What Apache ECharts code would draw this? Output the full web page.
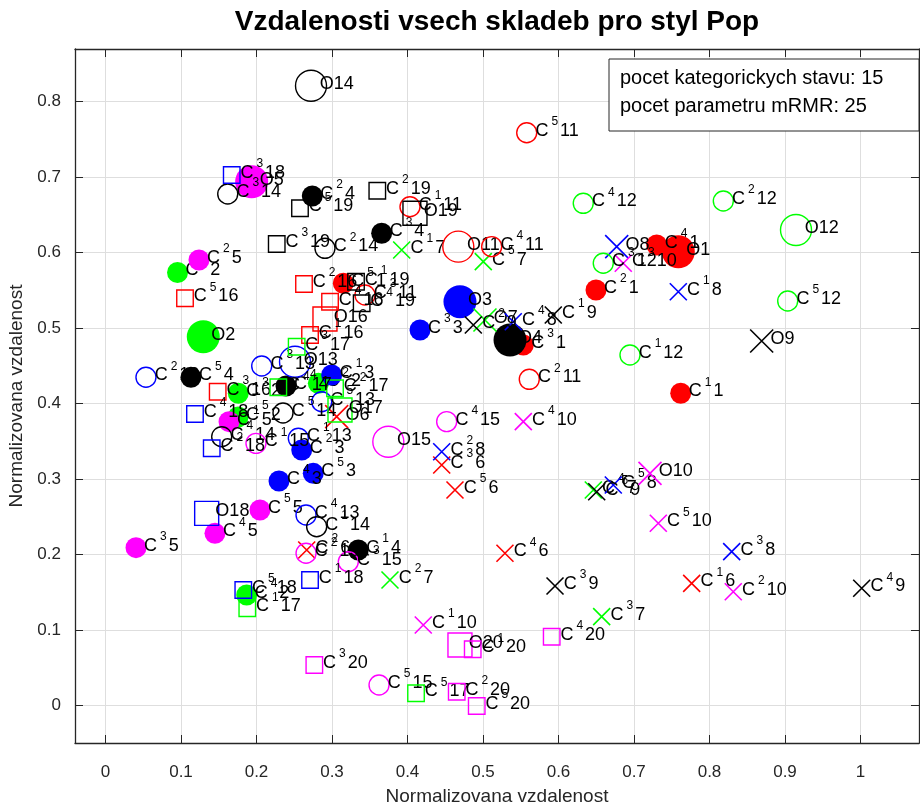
<!DOCTYPE html>
<html><head><meta charset="utf-8">
<script src="https://cdn.jsdelivr.net/npm/echarts@6/dist/echarts.min.js"></script>
<style>html,body{margin:0;padding:0;background:#fff}#c{width:920px;height:807px}</style>
</head><body><div id="c"></div>
<script>
// ---- data (normalized distances) ----
const songs = [1,2,3,4,5,6,7,8,9,10,11,12,13,14,15,16,17,18,19,20];
const origX = [0.7587,0.1295,0.4695,0.5358,0.1936,0.3062,0.5026,0.6771,0.8691,0.7212,0.4673,0.9146,0.2510,0.2722,0.3746,0.2907,0.3106,0.1340,0.4099,0.4695];
const origY = [0.6013,0.4887,0.5351,0.4844,0.6940,0.3828,0.5109,0.6080,0.4830,0.3078,0.6080,0.6301,0.4556,0.8212,0.3497,0.5122,0.3917,0.2548,0.6522,0.0804];
const c1X = [0.7619,0.0954,0.2996,0.3348,0.1636,0.7764,0.3923,0.7587,0.5931,0.4209,0.4033,0.6947,0.2554,0.2797,0.1993,0.2709,0.1878,0.2709,0.3318,0.4864];
const c1Y = [0.4138,0.5738,0.4380,0.2062,0.3762,0.1621,0.6036,0.5483,0.5175,0.1069,0.6609,0.4645,0.3542,0.2371,0.3475,0.4910,0.1290,0.1665,0.5616,0.0747];
const c2X = [0.6497,0.2819,0.2599,0.2739,0.1238,0.2665,0.3768,0.4453,0.4872,0.8315,0.5613,0.8183,0.0536,0.2907,0.2656,0.2629,0.3040,0.1407,0.3600,0.4652];
const c2Y = [0.5506,0.4270,0.3387,0.6751,0.5903,0.2062,0.1665,0.3364,0.5042,0.1510,0.4323,0.6685,0.4350,0.6058,0.2019,0.5585,0.4204,0.3409,0.6821,0.0185];
const c3X = [0.5534,0.1759,0.4166,0.3658,0.0404,0.4453,0.6572,0.8294,0.5954,0.6858,0.3437,0.6593,0.2069,0.1619,0.3216,0.1486,0.2532,0.1672,0.2268,0.2766];
const c3Y = [0.4777,0.4138,0.4976,0.6257,0.2093,0.3188,0.1179,0.2040,0.1585,0.5860,0.5440,0.5860,0.4499,0.6777,0.1907,0.4159,0.4755,0.7029,0.6115,0.0539];
const c4X = [0.7301,0.1870,0.2298,0.2391,0.1450,0.5291,0.6461,0.5401,1.0016,0.5534,0.5115,0.6328,0.2656,0.1539,0.4519,0.2974,0.2289,0.1185,0.3393,0.5910];
const c4Y = [0.6102,0.1466,0.2976,0.4234,0.2283,0.2019,0.2857,0.5086,0.1555,0.3762,0.6080,0.6654,0.2526,0.3563,0.3762,0.5351,0.4217,0.3864,0.5330,0.0914];
const c5X = [0.3150,0.1755,0.2752,0.1132,0.2046,0.4629,0.5004,0.6726,0.6506,0.7322,0.5579,0.9036,0.2864,0.2351,0.3623,0.1053,0.4113,0.1825,0.2576,0.4917];
const c5Y = [0.5595,0.3824,0.3078,0.4350,0.2592,0.2857,0.5881,0.2923,0.2834,0.2416,0.7589,0.5360,0.4026,0.3877,0.0274,0.5396,0.0164,0.1532,0.6588,-0.0004];
const xTicks = [0,0.1,0.2,0.3,0.4,0.5,0.6,0.7,0.8,0.9,1];
const yTicks = [0,0.1,0.2,0.3,0.4,0.5,0.6,0.7,0.8];
const titleText = 'Vzdalenosti vsech skladeb pro styl Pop';
const axisTitle = 'Normalizovana vzdalenost';
const infoLines = ['pocet kategorickych stavu: 15', 'pocet parametru mRMR: 25'];

// ---- styling ----
const FONT = '"Liberation Sans", Arial, Helvetica, sans-serif';
const colors = ['#ff0000','#00ff00','#0000ff','#000000','#ff00ff'];
const XPATH = 'path://M0,0L10,10M10,0L0,10';
const X_MIN = -0.0404, X_MAX = 1.0775, Y_MIN = -0.0494, Y_MAX = 0.8698;
const rich = {
  m: {fontSize: 18, fontFamily: FONT, color: '#000', lineHeight: 30},
  s: {fontSize: 12, fontFamily: FONT, color: '#000', lineHeight: 14, verticalAlign: 'top', padding: [0, 2, 0, 3]}
};
function markerStyle(song, isO) {
  const g = Math.floor((song - 1) / 5), col = colors[(song - 1) % 5];
  const clear = 'rgba(0,0,0,0)';
  if (g === 0) return {symbol: 'circle', size: isO ? 33 : 21, itemStyle: {color: col, borderWidth: 0, opacity: 1}};
  if (g === 1) return {symbol: XPATH, size: isO ? 23 : 17, itemStyle: {color: clear, borderColor: col, borderWidth: 1.6, opacity: 1}};
  if (g === 2) return {symbol: 'circle', size: isO ? 31 : 20, itemStyle: {color: clear, borderColor: col, borderWidth: 1.4, opacity: 1}};
  return {symbol: 'rect', size: isO ? 24 : 16.5, itemStyle: {color: clear, borderColor: col, borderWidth: 1.4, opacity: 1}};
}
const series = [];
function mk(data, st) {
  series.push({
    type: 'scatter', data, symbol: st.symbol, symbolSize: st.size, itemStyle: st.itemStyle,
    z: 2 + series.length, animation: false, emphasis: {disabled: true}, silent: true,
    label: {show: true, position: 'right', distance: 8 - st.size / 2, offset: [0, -2],
      formatter: p => p.name, rich}
  });
}
const cXs = [c1X, c2X, c3X, c4X, c5X], cYs = [c1Y, c2Y, c3Y, c4Y, c5Y];
songs.forEach((s, i) => {
  mk([{value: [origX[i], origY[i]], name: '{m|O' + s + '}'}], markerStyle(s, true));
  mk(cXs.map((arr, k) => ({value: [arr[i], cYs[k][i]], name: '{m|C}{s|' + (k + 1) + '}{m|' + s + '}'})), markerStyle(s, false));
});

const near = (v, list) => list.some(t => Math.abs(t - v) < 1e-6);
const fmt = list => v => near(v, list) ? String(+v.toFixed(1)) : '';
const axisCol = '#262626';
const tickCommon = {inside: true, length: 8, lineStyle: {color: axisCol, width: 1}};
const lineCommon = {show: true, onZero: false, lineStyle: {color: axisCol, width: 1.3}};
const xBase = {type: 'value', min: X_MIN, max: X_MAX, splitNumber: 11};
const yBase = {type: 'value', min: Y_MIN, max: Y_MAX, splitNumber: 9};

const option = {
  animation: false,
  textStyle: {fontFamily: FONT},
  grid: {left: 75, right: 1, top: 49, bottom: 64, containLabel: false, outerBoundsMode: 'none'},
  xAxis: [
    Object.assign({}, xBase, {position: 'bottom', axisLine: lineCommon, axisTick: tickCommon,
      axisLabel: {formatter: fmt(xTicks), fontSize: 17, color: axisCol, margin: 21, showMinLabel: false, showMaxLabel: false},
      splitLine: {show: true, lineStyle: {color: '#dedede', width: 1}},
      name: axisTitle, nameLocation: 'middle', nameGap: 44, nameTextStyle: {fontSize: 19, color: axisCol}}),
    Object.assign({}, xBase, {position: 'top', axisLine: lineCommon, axisTick: tickCommon,
      axisLabel: {show: false}, splitLine: {show: false}})
  ],
  yAxis: [
    Object.assign({}, yBase, {position: 'left', axisLine: lineCommon, axisTick: tickCommon,
      axisLabel: {formatter: fmt(yTicks), fontSize: 17, color: axisCol, margin: 14, showMinLabel: false, showMaxLabel: false},
      splitLine: {show: true, lineStyle: {color: '#dedede', width: 1}},
      name: axisTitle, nameLocation: 'middle', nameGap: 40, nameTextStyle: {fontSize: 19, color: axisCol}}),
    Object.assign({}, yBase, {position: 'right', axisLine: lineCommon, axisTick: tickCommon,
      axisLabel: {show: false}, splitLine: {show: false}})
  ],
  series,
  graphic: [
    {type: 'text', x: 497, y: 22, z: 200, style: {text: titleText, textAlign: 'center', textVerticalAlign: 'middle',
      font: 'bold 28px ' + FONT, fill: '#000'}},
    {type: 'rect', z: 200, shape: {x: 609, y: 59, width: 310, height: 72}, style: {fill: '#fff', stroke: '#262626', lineWidth: 1}},
    {type: 'text', x: 620, y: 78, z: 201, style: {text: infoLines[0], textVerticalAlign: 'middle', font: '20px ' + FONT, fill: '#000'}},
    {type: 'text', x: 620, y: 106, z: 201, style: {text: infoLines[1], textVerticalAlign: 'middle', font: '20px ' + FONT, fill: '#000'}}
  ]
};
const chart = echarts.init(document.getElementById('c'), null, {renderer: 'canvas'});
chart.setOption(option);
</script>
</body></html>
